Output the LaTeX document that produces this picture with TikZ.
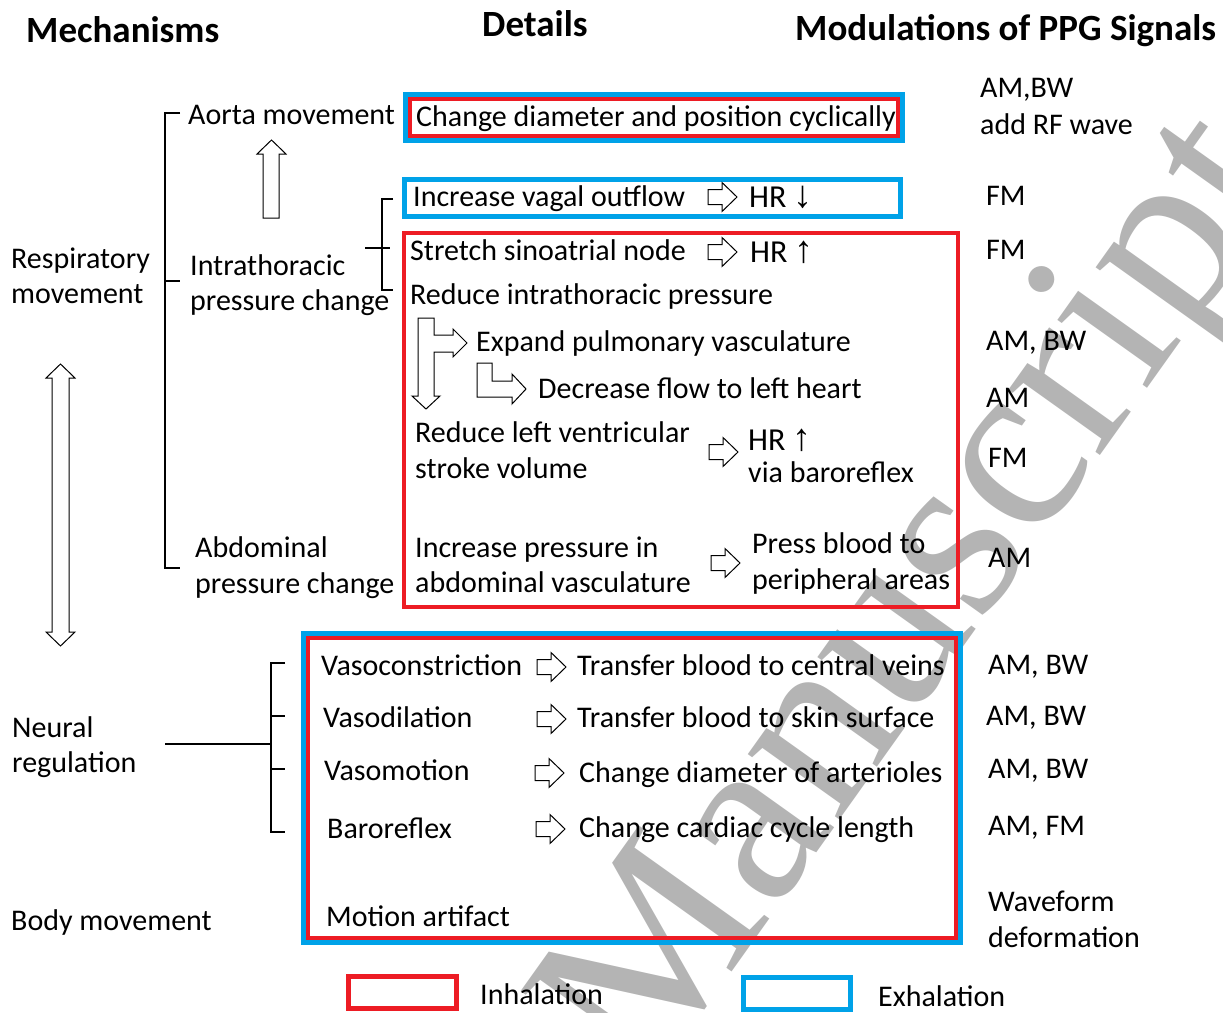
\documentclass[tikz,border=0pt]{standalone}
\usepackage{fontspec}
\setmainfont{Carlito}
\newfontfamily\arrfont{Liberation Sans}
\newfontfamily\wmfont{Liberation Serif}
\definecolor{inhred}{HTML}{ED1C24}
\definecolor{exhblue}{HTML}{00A2E8}
\definecolor{wmgray}{HTML}{B4B4B4}
\tikzset{
  txt/.style={anchor=west, inner sep=0pt, font=\fontsize{30}{36}\selectfont, text height=19pt, text depth=0pt},
  hrtxt/.style={anchor=west, inner sep=0pt, font=\fontsize{32}{36}\selectfont, text height=20pt, text depth=0pt},
  hdr/.style={anchor=west, inner sep=0pt, font=\fontsize{37}{44}\bfseries\selectfont, text height=24pt, text depth=0pt},
  redbox/.style={draw=inhred, line width=4pt},
  bluebox/.style={draw=exhblue, line width=5pt},
  legred/.style={draw=inhred, line width=5pt},
  hollow/.style={draw=black, line width=1pt, fill=white, line join=miter},
  brk/.style={draw=black, line width=1.2pt},
  rarrow/.pic={\draw[hollow] (0,-7.5) -- (14,-7.5) -- (14,-14.5) -- (29,0) -- (14,14.5) -- (14,7.5) -- (0,7.5) -- cycle;}
}
\newcommand{\upa}{{\arrfont\fontsize{38}{38}\selectfont ↑}}
\newcommand{\dna}{{\arrfont\fontsize{38}{38}\selectfont ↓}}
\begin{document}
\begin{tikzpicture}[x=1pt,y=-1pt]
\useasboundingbox (0,0) rectangle (1223,1012);
% watermark
\begin{scope}
\clip (0,0) rectangle (1223,1012);
\node[anchor=base west, inner sep=0pt, rotate=54.5, text=wmgray, font=\wmfont\fontsize{245}{245}\selectfont] (wm) at (647,1091) {Manuscript};
\end{scope}

% headers
\node[hdr] (h1) at (26,30) {Mechanisms};
\node[hdr] (h2) at (482,24) {Details};
\node[hdr] (h3) at (795,28) {Modulations of PPG Signals};

% left column
\node[txt] (resp1) at (11,259) {Respiratory};
\node[txt] (resp2) at (11,294) {movement};
\node[txt] (neur1) at (12,728) {Neural};
\node[txt] (neur2) at (12,763) {regulation};
\node[txt] (body) at (11,921) {Body movement};

% second column
\node[txt] (aorta) at (188,115) {Aorta movement};
\node[txt] (intra1) at (190,266) {Intrathoracic};
\node[txt] (intra2) at (190,301) {pressure change};
\node[txt] (abd1) at (195,548) {Abdominal};
\node[txt] (abd2) at (195,584) {pressure change};

% brackets
\draw[brk] (180,113) -- (165,113) -- (165,568) -- (180,568);
\draw[brk] (165,281) -- (180,281);
\draw[brk] (393,199) -- (382,199) -- (382,290) -- (393,290);
\draw[brk] (365,248) -- (390,248);
\draw[brk] (285,663) -- (271,663) -- (271,832) -- (285,832);
\draw[brk] (271,716) -- (285,716);
\draw[brk] (271,769) -- (285,769);
\draw[brk] (165,744) -- (271,744);

% big hollow arrows
\draw[hollow] (60.5,364) -- (75,378) -- (69,378) -- (69,632) -- (75,632) -- (60.5,646) -- (46,632) -- (52,632) -- (52,378) -- (46,378) -- cycle;
\draw[hollow] (271.5,140) -- (286,154) -- (279,154) -- (279,218) -- (263,218) -- (263,154) -- (257,154) -- cycle;
\draw[hollow] (418,318) -- (434,318) -- (434,335) -- (453,335) -- (453,329) -- (467,343) -- (453,357) -- (453,352) -- (434,352) -- (434,396) -- (440,396) -- (426,409) -- (412,396) -- (418,396) -- cycle;
\draw[hollow] (477,363) -- (492,363) -- (492,381) -- (512,381) -- (512,374) -- (526,389) -- (512,404) -- (512,397) -- (477,397) -- cycle;

% boxes
\draw[bluebox] (405.5,94.5) rectangle (902.5,140.5);
\draw[redbox] (410,99) rectangle (898,136);
\draw[bluebox] (404.5,179.5) rectangle (900.5,216.5);
\draw[redbox] (404,233) rectangle (958,607);
\draw[bluebox] (303.5,633.5) rectangle (960.5,942.5);
\draw[redbox] (308,638) rectangle (956,938);

% details
\node[txt] (chg) at (416,117) {Change diameter and position cyclically};
\node[txt] (vagal) at (413,197) {Increase vagal outflow};
\pic at (708,197) {rarrow};
\node[hrtxt] (hrd) at (749,197) {HR \dna};
\node[txt] (sino) at (410,251) {Stretch sinoatrial node};
\pic at (708,252) {rarrow};
\node[hrtxt] (hru) at (750,252) {HR \upa};
\node[txt] (redint) at (410,295) {Reduce intrathoracic pressure};
\node[txt] (expand) at (476,342) {Expand pulmonary vasculature};
\node[txt] (decr) at (538,389) {Decrease flow to left heart};
\node[txt] (rlv1) at (415,433) {Reduce left ventricular};
\node[txt] (rlv2) at (415,469) {stroke volume};
\pic at (709,452) {rarrow};
\node[hrtxt] (hrb) at (748,440) {HR \upa};
\node[txt] (viab) at (748,473) {via baroreflex};
\node[txt] (ip1) at (415,548) {Increase pressure in};
\node[txt] (ip2) at (415,583) {abdominal vasculature};
\pic at (711,563) {rarrow};
\node[txt] (pb1) at (752,544) {Press blood to};
\node[txt] (pb2) at (752,580) {peripheral areas};

\node[txt] (vasoc) at (321,666) {Vasoconstriction};
\pic at (537,667) {rarrow};
\node[txt] (tb1) at (577,666) {Transfer blood to central veins};
\node[txt] (vasod) at (323,718) {Vasodilation};
\pic at (537,719) {rarrow};
\node[txt] (tb2) at (577,718) {Transfer blood to skin surface};
\node[txt] (vasom) at (324,771) {Vasomotion};
\pic at (535,773) {rarrow};
\node[txt] (cd) at (579,773) {Change diameter of arterioles};
\node[txt] (baro) at (327,829) {Baroreflex};
\pic at (536,829) {rarrow};
\node[txt] (ccl) at (579,828) {Change cardiac cycle length};
\node[txt] (motion) at (326,917) {Motion artifact};

% modulations
\node[txt] (m1a) at (980,88) {AM,BW};
\node[txt] (m1b) at (980,125) {add RF wave};
\node[txt] (m2) at (986,196) {FM};
\node[txt] (m3) at (986,250) {FM};
\node[txt] (m4) at (986,341) {AM, BW};
\node[txt] (m5) at (986,398) {AM};
\node[txt] (m6) at (988,458) {FM};
\node[txt] (m7) at (988,558) {AM};
\node[txt] (m8) at (988,665) {AM, BW};
\node[txt] (m9) at (986,716) {AM, BW};
\node[txt] (m10) at (988,769) {AM, BW};
\node[txt] (m11) at (988,826) {AM, FM};
\node[txt] (m12a) at (988,902) {Waveform};
\node[txt] (m12b) at (988,938) {deformation};

% legend
\draw[legred] (348.5,976.5) rectangle (456.5,1008.5);
\node[txt] (inh) at (480,995) {Inhalation};
\draw[bluebox] (743.5,977.5) rectangle (850.5,1009.5);
\node[txt] (exh) at (878,997) {Exhalation};
\end{tikzpicture}
\end{document}
